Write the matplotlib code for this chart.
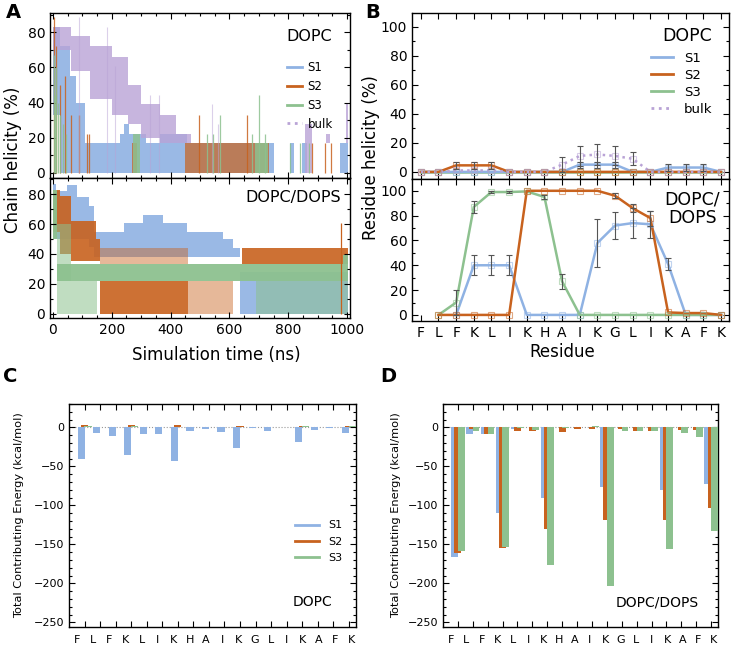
import numpy as np
import matplotlib
matplotlib.use('Agg')
from matplotlib import pyplot as plt
from matplotlib.ticker import MultipleLocator
from matplotlib.lines import Line2D

nan = np.nan
W, H = 733, 647

col_s1 = '#8FB2E3'
col_s2 = '#C8621E'
col_s3 = '#8DC18F'
col_bulk = '#B9A3D6'

residues = ['F', 'L', 'F', 'K', 'L', 'I', 'K', 'H', 'A', 'I', 'K', 'G', 'L', 'I', 'K', 'A', 'F', 'K']

# ---- A: chain helicity (%) vs time, read off as bands: segment start times, low, high
# DOPC
dopc_s1_t = [0, 25, 58, 80, 108, 228, 240, 257, 318, 364, 455, 750, 806, 818, 846, 863, 976, 1004]
dopc_s1_lo = [33, 0, 0, 0, 0, 0, 0, 0, 0, 0, 0, nan, 0, nan, 0, nan, 0]
dopc_s1_hi = [83, 72, 55, 40, 17, 22, 28, 22, 17, 22, 17, nan, 17, nan, 17, nan, 17]
dopc_s2_t = [268, 285, 450, 735]
dopc_s2_lo = [0, nan, 0]
dopc_s2_hi = [17, nan, 17]
dopc_s2_spk_t = [2, 10, 23, 40, 62, 87, 117, 122, 495, 659, 880, 925, 945]
dopc_s2_spk_h = [89, 72, 50, 55, 33, 33, 22, 22, 33, 33, 17, 17, 17]
dopc_s3_t = [273, 296, 686, 732]
dopc_s3_lo = [0, nan, 0]
dopc_s3_hi = [22, nan, 17]
dopc_s3_spk_t = [3, 8, 12, 18, 25, 33, 45, 523, 545, 568, 677, 700, 720, 806, 840, 870]
dopc_s3_spk_h = [67, 44, 60, 40, 33, 28, 22, 22, 22, 33, 22, 44, 22, 17, 17, 17]
dopc_bulk_t = [0, 60, 125, 200, 255, 300, 365, 420, 470, 857, 880, 930, 942, 995, 1003]
dopc_bulk_lo = [70, 58, 42, 33, 28, 20, 17, 17, nan, 0, nan, 17, nan, 17]
dopc_bulk_hi = [83, 78, 72, 66, 50, 39, 33, 22, nan, 28, nan, 22, nan, 39]
dopc_bulk_spk_t = [88, 185, 210, 330, 360, 540, 560]
dopc_bulk_spk_h = [89, 83, 61, 44, 44, 39, 28]

# DOPC/DOPS
dops_s1_t = [0, 12, 48, 82, 122, 139, 241, 281, 307, 375, 455, 578, 612, 636, 1002]
dops_s1_lo = [50, 50, 50, 50, 45, 38, 38, 38, 38, 38, 38, 38, 38, 0]
dops_s1_hi = [87, 82, 86, 78, 72, 55, 61, 61, 66, 61, 55, 50, 44, 28]
dops_s2_t = [0, 24, 60, 145, 160, 460, 643, 1002]
dops_s2_lo = [55, 40, 35, 35, 0, nan, 33]
dops_s2_hi = [83, 79, 62, 50, 22, nan, 44]
dops_s2_lt_t = [160, 460, 612]
dops_s2_lt_lo = [33, 0]
dops_s2_lt_hi = [44, 22]
dops_s2_spk_t = [980]
dops_s2_spk_h = [61]
dops_s3_t = [0, 15, 985, 1002]
dops_s3_lo = [50, 22, 22]
dops_s3_hi = [83, 33, 39]
dops_s3_lt_t = [15, 60, 150, 690, 1002]
dops_s3_lt_lo = [0, 0, nan, 0]
dops_s3_lt_hi = [60, 22, nan, 22]

# ---- B: residue helicity (%)
b_dopc_s1 = [0, 0, 0, 0, 0, 0, 0, 0, 0, 5, 5, 5, 0, 0, 3, 3, 3, 0]
b_dopc_s2 = [0, 0, 4.5, 4.5, 4.5, 0, 0, 0, 0, 0, 0, 0, 0, 0, 0, 0, 0, 0]
b_dopc_s3 = [0, 0, 0, 0, 0, 0, 0, 0, 0, 0, 0, 0, 0, 0, 0, 0, 0, 0]
b_dopc_bulk = [0, 0, 1, 1, 1, 0, 0, 0, 5, 11, 12, 11, 9, 0, 0, 0, 0, 0]
b_dopc_s1_err = [0, 0, 0, 0, 0, 0, 0, 0, 0, 2, 2, 2, 0, 0, 2.5, 2.5, 2.5, 0]
b_dopc_s2_err = [0, 0, 2.5, 2.5, 2.5, 0, 0, 0, 0, 0, 0, 0, 0, 0, 0, 0, 0, 0]
b_dopc_bulk_err = [0, 0, 0, 0, 0, 0, 0, 0, 5, 7, 7.5, 6.5, 4.5, 0, 0, 0, 0, 0]

b_dops_s1 = [nan, nan, 0, 40, 40, 40, 0, 0, 0, 0, 58, 72, 74, 73, 41, 0, 0, 0]
b_dops_s2 = [nan, 0, 0, 0, 0, 0, 100, 100, 100, 100, 100, 96, 86, 78, 2, 1.5, 1.5, 0]
b_dops_s3 = [nan, 0, 10, 87, 99, 99, 99.5, 95, 27, 0, 0, 0, 0, 0, 0, 0, 0, 0]
b_dops_s1_err = [0, 0, 0, 8, 8, 8, 0, 0, 0, 0, 19, 11, 12, 11, 5, 0, 0, 0]
b_dops_s2_err = [0, 0, 0, 0, 0, 0, 0, 0, 0, 0, 0, 2, 3, 6, 0, 0, 0, 0]
b_dops_s3_err = [0, 0, 10, 5, 1, 1, 0, 2, 6, 0, 0, 0, 0, 0, 0, 0, 0, 0]

# ---- C / D: total contributing energy (kcal/mol)
e_dopc_s1 = [-40, -7, -11, -36, -8, -8, -43, -4, -2.5, -6, -27, -1, -4, 0, -19, -3, -1, -7.5]
e_dopc_s2 = [3, 0, 0, 3, 0, 0, 3, 0, 0, 0, 2, 0, 0, 0, 2, 0, 0, 2]
e_dopc_s3 = [1.5, 0, 0, 1.5, 0, 0, 1, 0, 0, 0, 1, 0, 0, 0, 1.5, 0, 0, 1.5]
e_dops_s1 = [-166, -9, -9, -110, -2, 0, -90, 0, 0, 0, -77, 0, 0, 0, -80, 0, 0, -73]
e_dops_s2 = [-161, -2, -8, -155, -4, -5, -130, -6, -2.5, -2.5, -119, -2, -4, -4, -119, -3, -3, -104]
e_dops_s3 = [-159, -5, -9, -153, -1, -3, -176, -1, 0, 1.5, -203, -5, -5, -5, -156, -7, -12, -133]


def add_ax(l, t, r, b):
    return fig.add_axes([l / W, 1 - b / H, (r - l) / W, (b - t) / H])


def frame(ax, size=10):
    ax.tick_params(which='both', direction='in', top=True, right=True, labelsize=size, width=0.8)
    ax.tick_params(which='major', length=4)
    ax.tick_params(which='minor', length=2.2)
    for s in ax.spines.values():
        s.set_linewidth(1.0)


def band(ax, t, lo, hi, color, alpha):
    # draw each run of valid segments as a step band
    lo = np.asarray(lo, float)
    hi = np.asarray(hi, float)
    t = np.asarray(t, float)
    i = 0
    while i < len(lo):
        if np.isnan(lo[i]):
            i += 1
            continue
        j = i
        while j + 1 < len(lo) and not np.isnan(lo[j + 1]):
            j += 1
        tt = t[i:j + 2]
        ll = np.append(lo[i:j + 1], lo[j])
        hh = np.append(hi[i:j + 1], hi[j])
        ax.fill_between(tt, ll, hh, step='post', color=color, alpha=alpha, lw=0)
        i = j + 1


def fpx(x, y):
    return x / W, 1 - y / H


fig = plt.figure(figsize=(W / 100, H / 100), dpi=100)

# ---------------- A
axA1 = add_ax(50, 13, 350, 178)
axA2 = add_ax(50, 178, 350, 318)

band(axA1, dopc_s1_t, dopc_s1_lo, dopc_s1_hi, col_s1, 0.9)
band(axA1, dopc_s2_t, dopc_s2_lo, dopc_s2_hi, col_s2, 0.7)
axA1.vlines(dopc_s2_spk_t, 0, dopc_s2_spk_h, color=col_s2, lw=0.9, alpha=0.85)
band(axA1, dopc_s3_t, dopc_s3_lo, dopc_s3_hi, col_s3, 0.85)
axA1.vlines(dopc_s3_spk_t, 0, dopc_s3_spk_h, color=col_s3, lw=0.9, alpha=0.85)
band(axA1, dopc_bulk_t, dopc_bulk_lo, dopc_bulk_hi, col_bulk, 0.8)
axA1.vlines(dopc_bulk_spk_t, 0, dopc_bulk_spk_h, color=col_bulk, lw=0.8, alpha=0.5)

band(axA2, dops_s1_t, dops_s1_lo, dops_s1_hi, col_s1, 0.9)
band(axA2, dops_s2_t, dops_s2_lo, dops_s2_hi, col_s2, 0.9)
band(axA2, dops_s2_lt_t, dops_s2_lt_lo, dops_s2_lt_hi, col_s2, 0.45)
axA2.vlines(dops_s2_spk_t, 0, dops_s2_spk_h, color=col_s2, lw=0.9)
band(axA2, dops_s3_t, dops_s3_lo, dops_s3_hi, col_s3, 0.95)
band(axA2, dops_s3_lt_t, dops_s3_lt_lo, dops_s3_lt_hi, col_s3, 0.55)

for ax in (axA1, axA2):
    ax.set_xlim(-10, 1010)
    ax.set_ylim(-3, 91)
    ax.yaxis.set_major_locator(MultipleLocator(20))
    ax.yaxis.set_minor_locator(MultipleLocator(10))
    ax.xaxis.set_major_locator(MultipleLocator(200))
    ax.xaxis.set_minor_locator(MultipleLocator(50))
    frame(ax)
axA1.tick_params(labelbottom=False)

axA1.text(0.864, 0.86, 'DOPC', transform=axA1.transAxes, ha='center', va='center', fontsize=11.5)
axA2.text(0.81, 0.864, 'DOPC/DOPS', transform=axA2.transAxes, ha='center', va='center', fontsize=11.5)
hA = [Line2D([], [], color=col_s1, lw=2), Line2D([], [], color=col_s2, lw=2),
      Line2D([], [], color=col_s3, lw=2), Line2D([], [], color=col_bulk, lw=2, ls=':')]
axA1.legend(hA, ['S1', 'S2', 'S3', 'bulk'], loc='upper left', bbox_to_anchor=(0.79, 0.71),
            frameon=False, fontsize=8.5, handlelength=1.3, handletextpad=0.45,
            labelspacing=0.5, borderpad=0, borderaxespad=0)

fig.text(*fpx(216, 355), 'Simulation time (ns)', ha='center', va='center', fontsize=12)
fig.text(*fpx(13, 160), 'Chain helicity (%)', ha='center', va='center', rotation=90, fontsize=12)

# ---------------- B
axB1 = add_ax(412, 13, 729, 179)
axB2 = add_ax(412, 179, 729, 321)
xr = np.arange(len(residues))


def res_series(ax, y, err, color, ls='-'):
    y = np.asarray(y, float)
    err = np.asarray(err, float)
    ax.plot(xr, y, color=color, lw=1.8, ls=ls, zorder=2)
    ax.plot(xr, y, 's', mfc='none', mec=color, ms=5, mew=0.8, alpha=0.55, zorder=3)
    m = err > 0
    ax.errorbar(xr[m], y[m], yerr=err[m], fmt='none', ecolor='#555555', elinewidth=0.8,
                capsize=2.5, capthick=0.8, zorder=4)


res_series(axB1, b_dopc_s3, np.zeros(18), col_s3)
res_series(axB1, b_dopc_s1, b_dopc_s1_err, col_s1)
res_series(axB1, b_dopc_s2, b_dopc_s2_err, col_s2)
res_series(axB1, b_dopc_bulk, b_dopc_bulk_err, col_bulk, ls=':')

res_series(axB2, b_dops_s1, b_dops_s1_err, col_s1)
res_series(axB2, b_dops_s3, b_dops_s3_err, col_s3)
res_series(axB2, b_dops_s2, b_dops_s2_err, col_s2)

for ax in (axB1, axB2):
    ax.set_xlim(-0.5, 17.45)
    ax.set_ylim(-4.9, 109.5)
    ax.yaxis.set_major_locator(MultipleLocator(20))
    ax.yaxis.set_minor_locator(MultipleLocator(10))
    ax.set_xticks(xr)
    frame(ax)
axB1.tick_params(labelbottom=False)
axB2.set_xticklabels(residues)

axB1.text(0.868, 0.86, 'DOPC', transform=axB1.transAxes, ha='center', va='center', fontsize=12.5)
axB2.text(0.885, 0.79, 'DOPC/\nDOPS', transform=axB2.transAxes, ha='center', va='center',
          fontsize=12.5, linespacing=1.0)
hB = [Line2D([], [], color=col_s1, lw=2), Line2D([], [], color=col_s2, lw=2),
      Line2D([], [], color=col_s3, lw=2), Line2D([], [], color=col_bulk, lw=2, ls=':')]
axB1.legend(hB, ['S1', 'S2', 'S3', 'bulk'], loc='upper left', bbox_to_anchor=(0.754, 0.765),
            frameon=False, fontsize=9.5, handlelength=1.7, handletextpad=0.8,
            labelspacing=0.3, borderpad=0, borderaxespad=0)

fig.text(*fpx(562, 352), 'Residue', ha='center', va='center', fontsize=12)
fig.text(*fpx(371, 158), 'Residue helicity (%)', ha='center', va='center', rotation=90, fontsize=12)

# ---------------- C / D
axC = add_ax(69, 404, 356, 627)
axD = add_ax(443, 404, 718, 627)
bw = 0.46
offs = [-0.22, 0.0, 0.22]
# residue names sit on a slightly wider grid than the bar groups
label_pos = np.linspace(-0.47, 17.15, len(residues))
for ax, ys in ((axC, (e_dopc_s1, e_dopc_s2, e_dopc_s3)), (axD, (e_dops_s1, e_dops_s2, e_dops_s3))):
    ax.axhline(0, color='#999999', lw=0.8, ls=':', zorder=0)
    for k, (y, col) in enumerate(zip(ys, (col_s1, col_s2, col_s3))):
        ax.bar(xr + offs[k], y, width=bw, color=col, lw=0, zorder=2 + k)
    ax.set_xlim(-1.0, 17.46)
    ax.set_ylim(-256, 30)
    ax.yaxis.set_major_locator(MultipleLocator(50))
    ax.yaxis.set_minor_locator(MultipleLocator(10))
    ax.set_xticks(xr)
    ax.set_xticklabels([])
    ax.set_xticks(label_pos, labels=residues, minor=True)
    frame(ax, size=8)
    ax.tick_params(axis='x', which='minor', length=0, labelsize=8, pad=6)

axC.text(0.847, 0.112, 'DOPC', transform=axC.transAxes, ha='center', va='center', fontsize=10)
axD.text(0.778, 0.112, 'DOPC/DOPS', transform=axD.transAxes, ha='center', va='center', fontsize=10)
hC = [Line2D([], [], color=col_s1, lw=2), Line2D([], [], color=col_s2, lw=2),
      Line2D([], [], color=col_s3, lw=2)]
axC.legend(hC, ['S1', 'S2', 'S3'], loc='upper left', bbox_to_anchor=(0.787, 0.478),
           frameon=False, fontsize=8, handlelength=2.2, handletextpad=0.8,
           labelspacing=0.55, borderpad=0, borderaxespad=0)

fig.text(*fpx(19, 515), 'Total Contributing Energy (kcal/mol)', ha='center', va='center',
         rotation=90, fontsize=8.2)
fig.text(*fpx(396, 515), 'Total Contributing Energy (kcal/mol)', ha='center', va='center',
         rotation=90, fontsize=8.2)

# panel letters
for lab, x, y in (('A', 13, 12), ('B', 373, 12), ('C', 10, 376), ('D', 388, 376)):
    fig.text(*fpx(x, y), lab, ha='center', va='center', fontsize=14, fontweight='bold')

fig.savefig('out.png', dpi=100)
